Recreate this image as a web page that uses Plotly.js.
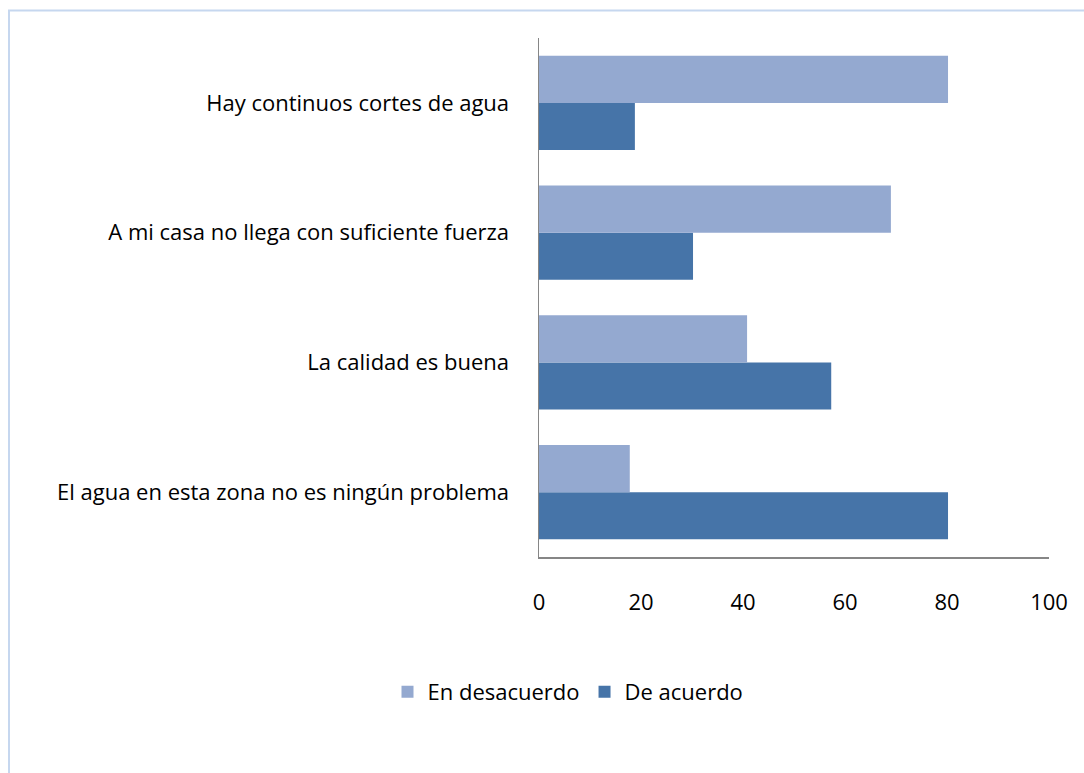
<!DOCTYPE html>
<html>
<head>
<meta charset="utf-8">
<script src="https://cdn.plot.ly/plotly-3.0.1.min.js"></script>
<style>html,body{margin:0;padding:0;background:#fff;}#chart{width:1084px;height:773px;}</style>
</head>
<body>
<div id="chart"></div>
<script>
// Categories listed bottom-to-top
const categories = [
  "El agua en esta zona no es ningún problema",
  "La calidad es buena",
  "A mi casa no llega con suficiente fuerza",
  "Hay continuos cortes de agua"
];
const deAcuerdo = [80.2, 57.3, 30.2, 18.8];
const enDesacuerdo = [17.8, 40.8, 69.0, 80.2];
const xTicks = [0, 20, 40, 60, 80, 100];

const font = "'Open Sans', sans-serif";

const traces = [
  {type: "bar", orientation: "h", name: "De acuerdo", y: categories, x: deAcuerdo,
   marker: {color: "#4674A8"}, hoverinfo: "x+name"},
  {type: "bar", orientation: "h", name: "En desacuerdo", y: categories, x: enDesacuerdo,
   marker: {color: "#94A9D0"}, hoverinfo: "x+name"}
];

const L = 539, R = 1049, T = 38, B = 557;
const pw = R - L, ph = B - T;
const px = v => (v - L) / pw;
const py = v => (B - v) / ph;

const layout = {
  width: 1084, height: 773,
  margin: {l: L, r: 1084 - R, t: T, b: 773 - B},
  paper_bgcolor: "#fff", plot_bgcolor: "#fff",
  barmode: "group", bargap: 0.275, bargroupgap: 0,
  font: {family: font, size: 22, color: "#000"},
  showlegend: true,
  legend: {orientation: "h", x: px(568), xanchor: "center", y: py(692), yanchor: "middle",
           traceorder: "reversed", font: {family: font, size: 22, color: "#000"}},
  xaxis: {range: [0, 100], tickvals: xTicks, ticktext: xTicks.map(String),
          showgrid: false, zeroline: false, showline: true, linecolor: "#868686", linewidth: 1.5,
          ticks: "", ticklabelstandoff: 25, fixedrange: true},
  yaxis: {type: "category", categoryorder: "array", categoryarray: categories,
          showgrid: false, zeroline: false, showline: true, linecolor: "#868686", linewidth: 1.5,
          ticks: "", ticklabelstandoff: 24, fixedrange: true},
  shapes: [
    {type: "line", xref: "paper", yref: "paper", x0: px(9), x1: px(9), y0: py(10), y1: py(773),
     line: {color: "#C6D7EF", width: 2}},
    {type: "line", xref: "paper", yref: "paper", x0: px(8), x1: px(1084), y0: py(10.5), y1: py(10.5),
     line: {color: "#C6D7EF", width: 2}}
  ]
};

Plotly.newPlot("chart", traces, layout, {displayModeBar: false, staticPlot: true});
</script>
</body>
</html>
